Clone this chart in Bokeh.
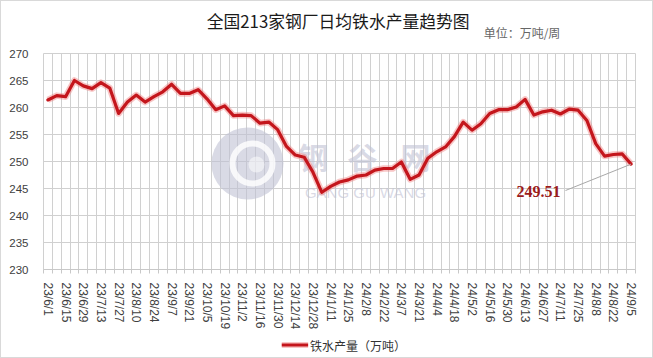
from bokeh.plotting import figure
from bokeh.layouts import column
from bokeh.models import (FixedTicker, ColumnDataSource, Range1d)
from bokeh.core.properties import value
from bokeh.embed import file_html
from bokeh.resources import INLINE

# ---- data (weekly, 2023/6/1 .. 2024/9/5) ----
tick_labels = ["23/6/1", "23/6/15", "23/6/29", "23/7/13", "23/7/27", "23/8/10", "23/8/24",
               "23/9/7", "23/9/21", "23/10/5", "23/10/19", "23/11/2", "23/11/16", "23/11/30",
               "23/12/14", "23/12/28", "24/1/11", "24/1/25", "24/2/8", "24/2/22", "24/3/7",
               "24/3/21", "24/4/4", "24/4/18", "24/5/2", "24/5/16", "24/5/30", "24/6/13",
               "24/6/27", "24/7/11", "24/7/25", "24/8/8", "24/8/22", "24/9/5"]
iron_output = [261.4, 262.2, 262.0, 265.0, 264.0, 263.5, 264.6, 263.6, 258.9, 261.0,
               262.3, 261.0, 262.0, 262.9, 264.3, 262.6, 262.6, 263.3, 261.6, 259.6,
               260.3, 258.5, 258.6, 258.5, 257.1, 257.3, 255.9, 252.8, 251.2, 250.8,
               248.0, 244.3, 245.4, 246.2, 246.6, 247.3, 247.5, 248.4, 248.7, 248.7,
               249.9, 246.7, 247.5, 250.6, 251.8, 252.7, 254.6, 257.3, 255.8, 257.0,
               258.9, 259.6, 259.6, 260.1, 261.5, 258.6, 259.2, 259.5, 258.8, 259.7,
               259.5, 257.6, 253.3, 251.0, 251.3, 251.4, 249.51]
y_ticks = [230, 235, 240, 245, 250, 255, 260, 265, 270]
title_text = "全国213家钢厂日均铁水产量趋势图"
unit_text = "单位：万吨/周"
series_name = "铁水产量（万吨）"

n = len(iron_output)
xs = list(range(n))

W = 651                       # inner width (1px border each side -> 653)
TOP_H, MAIN_H, LEG_H = 40, 293, 23   # 356 inner height
FL, FR, FT, FB = 42, 634, 52, 268    # frame edges, inner page px
X0, X1 = -0.5, n - 0.5
Y0, Y1 = 230, 270
LINE_RED = "#c4161c"
GLOW = "#f08080"

def sx2x(px):
    return X0 + (px - 1 - FL) * (X1 - X0) / (FR - FL)

def sy2y(py):
    return Y1 - (py - 1 - FT) * (Y1 - Y0) / (FB - FT)

def bare(h):
    f = figure(width=W, height=h, output_backend="svg", toolbar_location=None,
               x_range=Range1d(0, W), y_range=Range1d(h, 0),
               x_axis_type=None, y_axis_type=None, min_border=0)
    f.outline_line_color = None
    f.background_fill_color = "white"
    f.border_fill_color = "white"
    f.grid.visible = False
    return f

# ---- header: title and unit ----
top = bare(TOP_H)
top.text(x=[324], y=[19], text=[title_text], text_font=value("Noto Sans CJK SC"),
         text_font_size="16.8px", text_color="#1a1a1a", text_align="center",
         text_baseline="middle")
top.text(x=[484], y=[31], text=[unit_text], text_font=value("Noto Sans CJK SC"),
         text_font_size="12px", text_color="#666666", text_align="left",
         text_baseline="middle")

# ---- main chart ----
p = figure(width=W, height=MAIN_H, output_backend="svg", toolbar_location=None,
           x_range=Range1d(X0, X1), y_range=Range1d(Y0, Y1),
           min_border_left=FL, min_border_right=W - FR,
           min_border_top=FT - TOP_H, min_border_bottom=TOP_H + MAIN_H - FB)
p.background_fill_color = "white"
p.border_fill_color = "white"
p.outline_line_color = "#d0d0d0"

p.xgrid.ticker = FixedTicker(ticks=[i - 0.5 for i in range(n + 1)])
p.xgrid.grid_line_color = "#d0d0d0"
p.ygrid.ticker = FixedTicker(ticks=y_ticks)
p.ygrid.grid_line_color = "#d0d0d0"

tick_pos = list(range(0, n, 2))
p.xaxis.ticker = FixedTicker(ticks=tick_pos, minor_ticks=[i - 0.5 for i in range(n + 1)])
p.xaxis.major_label_overrides = {t: lab for t, lab in zip(tick_pos, tick_labels)}
p.xaxis.major_label_orientation = "vertical"
p.xaxis.major_label_text_font = "Liberation Sans"
p.xaxis.major_label_text_font_size = "12px"
p.xaxis.major_label_text_color = "#404040"
p.xaxis.major_tick_line_color = None
p.xaxis.minor_tick_line_color = "#c8c8c8"
p.xaxis.minor_tick_in = 0
p.xaxis.minor_tick_out = 4
p.xaxis.axis_line_color = "#c8c8c8"
p.xaxis.major_label_standoff = 7

p.yaxis.ticker = FixedTicker(ticks=y_ticks)
p.yaxis.major_label_text_font = "Liberation Sans"
p.yaxis.major_label_text_font_size = "11.5px"
p.yaxis.major_label_text_color = "#404040"
p.yaxis.axis_line_color = None
p.yaxis.major_tick_line_color = None
p.yaxis.minor_tick_line_color = None
p.yaxis.major_label_standoff = 9

# watermark
wm = "#bfc1d4"
p.scatter([sx2x(247)], [sy2y(163)], size=72, marker="circle", fill_color=wm,
          line_color=None, fill_alpha=0.6)
p.scatter([sx2x(252)], [sy2y(163)], size=40, marker="circle", fill_color=None,
          line_color="white", line_width=6, line_alpha=0.8)
p.scatter([sx2x(256)], [sy2y(164)], size=16, marker="circle", fill_color="white",
          line_color=None, fill_alpha=0.5)
p.text(x=[sx2x(313), sx2x(362), sx2x(415)], y=[sy2y(155)] * 3, text=["钢", "谷", "网"],
       text_font=value("Noto Sans CJK SC"), text_font_style="bold", text_font_size="30px",
       text_color=wm, text_alpha=0.6, text_align="center", text_baseline="middle")
p.text(x=[sx2x(365)], y=[sy2y(192)], text=["GANG GU WANG"],
       text_font=value("Liberation Sans"), text_font_size="15px",
       text_color=wm, text_alpha=0.6, text_align="center", text_baseline="middle")

# series
src = ColumnDataSource(dict(x=xs, y=iron_output))
p.line("x", "y", source=src, line_color=GLOW, line_width=6.5, line_alpha=0.45,
       line_join="round")
p.line("x", "y", source=src, line_color=LINE_RED, line_width=3.2,
       line_join="round", line_cap="round")

# end annotation
p.segment(x0=[sx2x(565)], y0=[sy2y(190)], x1=[xs[-1]], y1=[iron_output[-1]],
          line_color="#a8a8a8", line_width=1)
p.text(x=[sx2x(560)], y=[sy2y(191)], text=[f"{iron_output[-1]:.2f}"],
       text_font=value("Liberation Serif"), text_font_style="bold", text_font_size="16px",
       text_color="#9b1b1b", text_align="right", text_baseline="middle")

# ---- legend row (key line + label) ----
lg = bare(LEG_H)
ly = 10.5
lg.segment(x0=[262], y0=[ly], x1=[291], y1=[ly], line_color=GLOW, line_width=6,
           line_alpha=0.45)
lg.segment(x0=[262], y0=[ly], x1=[291], y1=[ly], line_color=LINE_RED, line_width=3.2)
lg.text(x=[293], y=[ly], text=[series_name], text_font=value("Noto Sans CJK SC"),
        text_font_size="12px", text_color="#333333", text_align="left",
        text_baseline="middle")

layout = column(top, p, lg, spacing=0)
layout.styles = {"border": "1px solid #d9d9d9", "background-color": "white"}

open("out.html", "w").write(file_html(layout, INLINE))
